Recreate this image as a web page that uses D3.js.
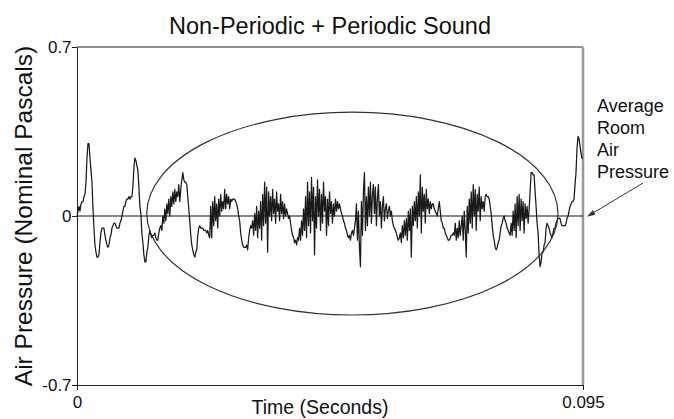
<!DOCTYPE html>
<html>
<head>
<meta charset="utf-8">
<script src="https://cdn.jsdelivr.net/npm/d3@7"></script>
<style>
  body { margin: 0; background: #fff; }
  svg text { font-family: "Liberation Sans", Arial, sans-serif; fill: #111; }
</style>
</head>
<body>
<svg id="mySVG" width="674" height="419"></svg>
<script>
//---chart texts---
var chartTitle = "Non-Periodic + Periodic Sound"
var xTitle = "Time (Seconds)"
var yTitle = "Air Pressure (Nominal Pascals)"
var noteLines = ["Average", "Room", "Air", "Pressure"]

//---axes---
var timeDomain = [0, 0.095]
var pressureDomain = [-0.7, 0.7]
var xTickValues = [0, 0.095]
var xTickLabels = ["0", "0.095"]
var yTickValues = [-0.7, 0, 0.7]
var yTickLabels = ["-0.7", "0", "0.7"]

//---ellipse round the periodic part (data units)---
var ellipseCenter = [0.0517, 0.01]
var ellipseRadii = [0.0386, 0.42]

//---sound pressure, one sample per screen pixel, evenly spaced over 0..0.095 s---
var pressure = [
 0.00,0.02,0.04,0.02,0.05,0.06,0.06,0.08,0.09,0.14,
 0.24,0.30,0.30,0.24,0.19,0.14,0.03,-0.05,-0.12,-0.15,
 -0.17,-0.17,-0.16,-0.11,-0.07,-0.05,-0.05,-0.05,-0.08,-0.10,
 -0.12,-0.13,-0.12,-0.09,-0.08,-0.05,-0.04,-0.03,-0.03,-0.04,
 -0.05,-0.05,-0.05,-0.03,-0.02,0.00,0.02,0.04,0.04,0.06,
 0.07,0.07,0.08,0.07,0.08,0.08,0.12,0.20,0.24,0.23,
 0.21,0.19,0.12,0.04,0.01,-0.07,-0.11,-0.16,-0.19,-0.19,
 -0.15,-0.13,-0.08,-0.06,-0.08,-0.09,-0.08,-0.08,-0.07,-0.09,
 -0.10,-0.10,-0.07,-0.05,-0.04,-0.06,0.00,-0.03,0.03,-0.02,
 0.05,0.01,0.07,0.00,0.08,0.04,0.10,0.05,0.11,0.06,
 0.10,0.08,0.13,0.06,0.11,0.15,0.18,0.15,0.14,0.14,
 0.13,0.08,0.03,-0.02,-0.08,-0.12,-0.14,-0.16,-0.17,-0.15,
 -0.14,-0.08,-0.05,-0.04,-0.05,-0.05,-0.05,-0.06,-0.06,-0.06,
 -0.07,-0.06,-0.08,-0.09,0.04,-0.09,0.06,-0.04,0.08,-0.02,
 0.05,-0.05,0.07,0.00,0.09,0.02,0.06,0.03,0.11,0.03,
 0.09,0.05,0.08,0.03,0.07,0.06,0.07,0.07,0.07,0.06,
 0.05,0.03,0.00,-0.02,-0.07,-0.10,-0.12,-0.13,-0.13,-0.13,
 -0.12,-0.14,-0.09,-0.06,-0.04,-0.05,-0.02,-0.08,0.01,-0.06,
 0.04,-0.09,0.02,-0.05,0.06,-0.10,0.09,-0.04,0.14,-0.03,
 0.12,-0.15,0.10,0.00,0.08,-0.02,0.11,0.01,0.07,-0.03,
 0.10,0.02,0.05,-0.02,0.09,0.01,0.06,-0.01,0.05,0.00,
 0.03,0.01,-0.01,0.00,-0.03,-0.06,-0.08,-0.09,-0.11,-0.10,
 -0.12,-0.09,-0.10,-0.05,-0.10,-0.02,-0.08,0.03,-0.06,0.08,
 -0.09,0.14,-0.04,0.10,-0.07,0.16,-0.02,0.12,-0.16,0.08,
 -0.05,0.15,0.00,0.11,-0.06,0.09,-0.03,0.14,0.02,0.08,
 -0.08,0.07,-0.04,0.10,0.01,0.06,-0.03,0.05,0.00,0.07,
 0.02,0.06,0.03,0.05,0.03,0.01,0.00,-0.02,-0.03,-0.05,
 -0.06,-0.08,-0.09,-0.08,-0.10,-0.07,-0.06,-0.08,-0.05,-0.02,
 0.05,-0.10,0.02,-0.13,-0.21,0.06,-0.08,0.10,0.18,-0.06,
 0.08,-0.04,0.12,0.00,0.14,-0.03,0.09,0.13,0.01,0.12,
 -0.04,0.07,0.13,0.00,0.06,-0.05,0.04,0.08,-0.02,0.03,
 0.05,-0.01,0.02,0.04,0.00,0.02,-0.02,-0.04,-0.05,-0.06,
 -0.07,-0.09,-0.10,-0.09,-0.07,-0.11,-0.04,-0.09,-0.02,-0.08,
 -0.01,-0.10,0.02,-0.06,0.03,-0.17,0.04,-0.04,0.06,-0.02,
 0.08,-0.05,0.10,0.00,0.17,-0.07,0.12,0.02,0.09,-0.03,
 0.11,0.03,0.07,0.01,0.06,0.03,0.05,0.05,0.03,0.02,
 0.01,0.00,0.03,0.06,0.02,-0.02,-0.03,-0.05,-0.05,-0.07,
 -0.08,-0.09,-0.10,-0.10,-0.09,-0.08,-0.08,-0.07,-0.08,-0.03,
 -0.10,-0.05,-0.09,-0.02,-0.08,-0.04,0.00,-0.10,0.02,-0.06,
 -0.17,0.04,-0.07,0.07,-0.03,0.10,-0.05,0.13,0.00,0.11,
 -0.06,0.09,0.02,0.12,-0.02,0.08,0.03,0.06,0.02,0.08,
 0.09,0.08,0.08,0.07,0.04,0.01,-0.04,-0.08,-0.10,-0.13,
 -0.14,-0.13,-0.11,-0.10,-0.07,-0.04,-0.03,-0.01,0.00,-0.02,
 -0.03,-0.05,-0.06,-0.07,-0.08,-0.03,-0.08,0.02,-0.06,0.05,
 -0.09,0.08,-0.04,0.09,-0.06,0.07,-0.02,0.06,-0.07,0.05,
 -0.01,0.04,-0.03,0.03,0.10,0.18,0.18,0.17,0.17,0.10,
 0.04,-0.03,-0.07,-0.16,-0.21,-0.19,-0.15,-0.15,-0.12,-0.11,
 -0.05,-0.03,-0.04,-0.05,-0.07,-0.08,-0.09,-0.07,-0.05,-0.05,
 -0.03,-0.02,-0.01,-0.01,-0.01,-0.03,-0.04,-0.04,-0.04,-0.04,
 -0.03,-0.01,0.00,0.02,0.04,0.05,0.06,0.06,0.07,0.13,
 0.18,0.28,0.33,0.32,0.29,0.26,0.24,0.24
]

var margin = {top: 47, right: 91, bottom: 34, left: 77}
var W = 674, H = 419
var plotW = W - margin.left - margin.right
var plotH = H - margin.top - margin.bottom

var svg = d3.select("#mySVG")
var g = svg.append("g").attr("transform", "translate(" + margin.left + "," + margin.top + ")")

var x = d3.scaleLinear().domain(timeDomain).range([0, plotW])
var y = d3.scaleLinear().domain(pressureDomain).range([plotH, 0])

//---sample time from its index---
var step = (timeDomain[1] - timeDomain[0]) / (pressure.length - 1)
var samples = pressure.map(function(v, i) { return {t: timeDomain[0] + i * step, p: v} })

//---frame: top line black, right edge grey---
g.append("line").attr("x1", 0).attr("x2", plotW).attr("y1", 0).attr("y2", 0)
  .attr("stroke", "#222").attr("stroke-width", 1)
g.append("line").attr("x1", plotW).attr("x2", plotW).attr("y1", 0).attr("y2", plotH)
  .attr("stroke", "#999").attr("stroke-width", 2.5)

//---axes---
var xAxis = d3.axisBottom(x).tickValues(xTickValues).tickSize(5).tickSizeOuter(0)
  .tickFormat(function(d, i) { return xTickLabels[i] })
var yAxis = d3.axisLeft(y).tickValues(yTickValues).tickSize(5).tickSizeOuter(0)
  .tickFormat(function(d, i) { return yTickLabels[i] })

var gx = g.append("g").attr("transform", "translate(0," + plotH + ")").call(xAxis)
var gy = g.append("g").call(yAxis)
;[gx, gy].forEach(function(a) {
  a.select(".domain").attr("stroke", "#222")
  a.selectAll(".tick line").attr("stroke", "#222")
  a.selectAll(".tick text").attr("font-family", "Liberation Sans, Arial, sans-serif")
    .attr("font-size", 17).attr("fill", "#111")
})
gx.selectAll(".tick text").attr("dy", "0.9em")
gy.selectAll(".tick text").attr("dx", "0.15em")

//---zero line (average room pressure)---
g.append("line").attr("x1", 0).attr("x2", plotW).attr("y1", y(0)).attr("y2", y(0))
  .attr("stroke", "#111").attr("stroke-width", 1)

//---waveform---
var line = d3.line().x(function(d) { return x(d.t) }).y(function(d) { return y(d.p) })
g.append("path").datum(samples)
  .attr("d", line)
  .attr("fill", "none")
  .attr("stroke", "#1a1a1a")
  .attr("stroke-width", 1.25)
  .attr("stroke-linejoin", "round")

//---ellipse---
g.append("ellipse")
  .attr("cx", x(ellipseCenter[0])).attr("cy", y(ellipseCenter[1]))
  .attr("rx", x(ellipseRadii[0]) - x(0)).attr("ry", y(0) - y(ellipseRadii[1]))
  .attr("fill", "none").attr("stroke", "#333").attr("stroke-width", 1.2)

//---titles---
svg.append("text").attr("x", margin.left + plotW / 2).attr("y", 34)
  .attr("text-anchor", "middle").attr("font-size", 23.5).text(chartTitle)
svg.append("text").attr("x", margin.left + plotW / 2 - 10).attr("y", 414)
  .attr("text-anchor", "middle").attr("font-size", 19.5).text(xTitle)
svg.append("text")
  .attr("transform", "translate(32," + (margin.top + y(0)) + ") rotate(-90)")
  .attr("text-anchor", "middle").attr("font-size", 24.5).text(yTitle)

//---note with arrow---
var note = svg.append("text").attr("x", 597).attr("y", 112).attr("font-size", 18)
note.selectAll("tspan").data(noteLines).enter().append("tspan")
  .attr("x", 597).attr("dy", function(d, i) { return i == 0 ? 0 : 22 })
  .text(function(d) { return d })

svg.append("defs").append("marker")
  .attr("id", "head").attr("viewBox", "0 0 10 10").attr("refX", 9).attr("refY", 5)
  .attr("markerWidth", 8).attr("markerHeight", 8).attr("orient", "auto")
  .append("path").attr("d", "M0,1.5L10,5L0,8.5Z").attr("fill", "#333")

var tipX = margin.left + x(timeDomain[1]) + 5
var tipY = margin.top + y(0)
svg.append("line").attr("x1", 643).attr("y1", 183).attr("x2", tipX).attr("y2", tipY)
  .attr("stroke", "#333").attr("stroke-width", 1).attr("marker-end", "url(#head)")
</script>
</body>
</html>
